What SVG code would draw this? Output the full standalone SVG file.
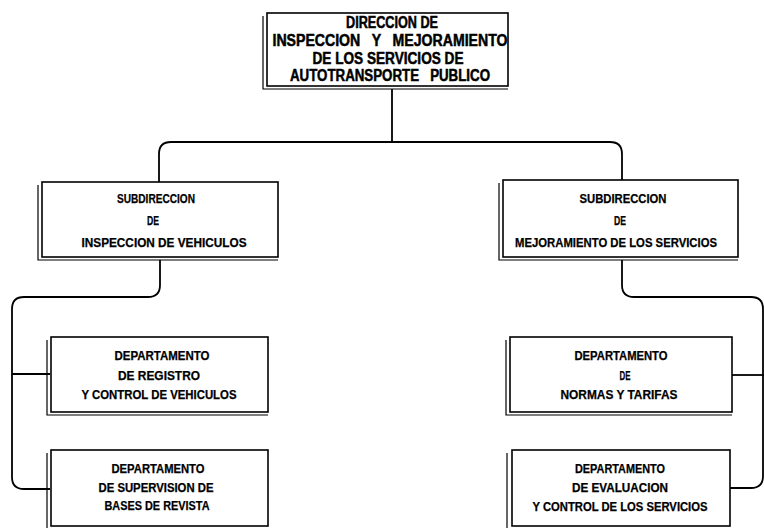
<svg xmlns="http://www.w3.org/2000/svg" width="764" height="528" viewBox="0 0 764 528">
<style>
.box{fill:#fff;stroke:#000;stroke-width:1.6}
.dbl{fill:none;stroke:#000;stroke-width:1.2}
.con{fill:none;stroke:#000;stroke-width:1.8}
text{font-family:"Liberation Sans",Arial,sans-serif;font-weight:bold;fill:#000;text-anchor:middle}
.t{font-size:16px;stroke:#000;stroke-width:0.5}
.s{font-size:12px;stroke:#000;stroke-width:0.25}
</style>
<rect width="764" height="528" fill="#fff"/>
<g id="connectors">
<path class="con" d="M392 89 V142"/>
<path class="con" d="M159 182 V154 Q159 142 171 142 H610 Q622 142 622 154 V180"/>
<path class="con" d="M160 260 V285 Q160 297 148 297 H24 Q12 297 12 309 V477 Q12 489 24 489 H50"/>
<path class="con" d="M12 374 H50"/>
<path class="con" d="M622 260 V285 Q622 297 634 297 H751 Q763 297 763 309 V476 Q763 488 751 488 H730"/>
<path class="con" d="M732 375 H764"/>
</g>
<g id="dir">
<path class="dbl" d="M263 16 V89 H508"/>
<rect class="box" x="267" y="13" width="241" height="73"/>
<text class="t" x="392" y="28" textLength="92" lengthAdjust="spacingAndGlyphs">DIRECCION DE</text>
<text class="t" x="390" y="46" textLength="235" lengthAdjust="spacingAndGlyphs" xml:space="preserve">INSPECCION   Y   MEJORAMIENTO</text>
<text class="t" x="388" y="64" textLength="151" lengthAdjust="spacingAndGlyphs">DE LOS SERVICIOS DE</text>
<text class="t" x="390" y="81" textLength="200" lengthAdjust="spacingAndGlyphs" xml:space="preserve">AUTOTRANSPORTE   PUBLICO</text>
</g>
<g id="sub1">
<path class="dbl" d="M38 185 V260 H278"/>
<rect class="box" x="42" y="182" width="236" height="75"/>
<text class="s" x="156" y="203" textLength="78" lengthAdjust="spacingAndGlyphs">SUBDIRECCION</text>
<text class="s" x="153" y="225" textLength="12" lengthAdjust="spacingAndGlyphs">DE</text>
<text class="s" x="164" y="247" textLength="165" lengthAdjust="spacingAndGlyphs">INSPECCION DE VEHICULOS</text>
</g>
<g id="sub2">
<path class="dbl" d="M499 183 V260 H738"/>
<rect class="box" x="503" y="180" width="235" height="77"/>
<text class="s" x="623" y="203" textLength="87" lengthAdjust="spacingAndGlyphs">SUBDIRECCION</text>
<text class="s" x="620" y="225" textLength="12" lengthAdjust="spacingAndGlyphs">DE</text>
<text class="s" x="616" y="247" textLength="202" lengthAdjust="spacingAndGlyphs">MEJORAMIENTO DE LOS SERVICIOS</text>
</g>
<g id="dep1">
<path class="dbl" d="M47 340 V415 H268"/>
<rect class="box" x="51" y="337" width="217" height="75"/>
<text class="s" x="162" y="360" textLength="95" lengthAdjust="spacingAndGlyphs">DEPARTAMENTO</text>
<text class="s" x="159" y="380" textLength="82" lengthAdjust="spacingAndGlyphs">DE REGISTRO</text>
<text class="s" x="159" y="399" textLength="155" lengthAdjust="spacingAndGlyphs">Y CONTROL DE VEHICULOS</text>
</g>
<g id="dep2">
<path class="dbl" d="M47 453 V528"/>
<rect class="box" x="51" y="450" width="217" height="76"/>
<text class="s" x="158" y="473" textLength="93" lengthAdjust="spacingAndGlyphs">DEPARTAMENTO</text>
<text class="s" x="156" y="492" textLength="115" lengthAdjust="spacingAndGlyphs">DE SUPERVISION DE</text>
<text class="s" x="157" y="510" textLength="105" lengthAdjust="spacingAndGlyphs">BASES DE REVISTA</text>
</g>
<g id="dep3">
<path class="dbl" d="M506 340 V415 H732"/>
<rect class="box" x="510" y="337" width="222" height="75"/>
<text class="s" x="621" y="360" textLength="93" lengthAdjust="spacingAndGlyphs">DEPARTAMENTO</text>
<text class="s" x="625" y="380" textLength="11" lengthAdjust="spacingAndGlyphs">DE</text>
<text class="s" x="619" y="399" textLength="117" lengthAdjust="spacingAndGlyphs">NORMAS Y TARIFAS</text>
</g>
<g id="dep4">
<path class="dbl" d="M507 453 V528"/>
<rect class="box" x="512" y="450" width="218" height="76"/>
<text class="s" x="620" y="473" textLength="90" lengthAdjust="spacingAndGlyphs">DEPARTAMENTO</text>
<text class="s" x="620" y="492" textLength="96" lengthAdjust="spacingAndGlyphs">DE EVALUACION</text>
<text class="s" x="620" y="511" textLength="175" lengthAdjust="spacingAndGlyphs">Y CONTROL DE LOS SERVICIOS</text>
</g>
</svg>
